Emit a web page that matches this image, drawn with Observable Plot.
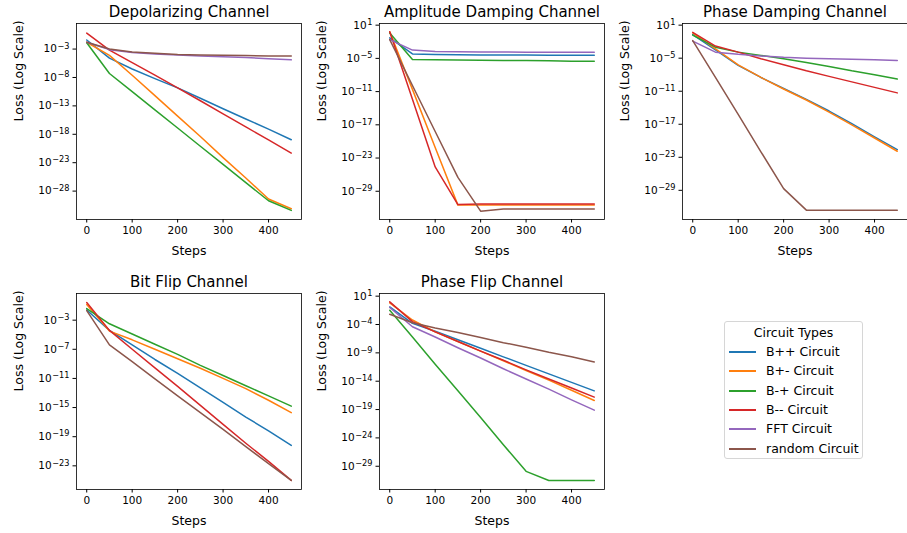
<!DOCTYPE html>
<html><head><meta charset="utf-8">
<script src="https://cdn.jsdelivr.net/npm/d3@7"></script>
<script src="https://cdn.jsdelivr.net/npm/@observablehq/plot@0.6"></script>
<style>
body{margin:0;background:#fff;overflow:hidden;font-family:"DejaVu Sans",sans-serif;}
#chart{position:relative;width:907px;height:533px;overflow:hidden;}
.panel{position:absolute;}
#legend{position:absolute;left:724px;top:321px;width:139px;height:138px;border:1px solid #d6d6d6;border-radius:3px;box-sizing:border-box;font-size:12.5px;color:#000;}
#legend .ttl{position:absolute;left:0;right:0;top:3px;text-align:center;}
#legend .row{position:absolute;left:0;height:16px;}
#legend .sw{position:absolute;left:4px;top:7px;width:27px;height:2px;}
#legend .lb{position:absolute;left:41px;top:0;white-space:nowrap;line-height:16px;}
</style></head><body><div id="chart"></div>
<script>
// ---- data (values are log10 of loss) ----
const steps = [0, 50, 100, 150, 200, 250, 300, 350, 400, 450];
const seriesNames = ["B++ Circuit", "B+- Circuit", "B-+ Circuit", "B-- Circuit", "FFT Circuit", "random Circuit"];
const seriesColors = ["#1f77b4", "#ff7f0e", "#2ca02c", "#d62728", "#9467bd", "#8c564b"];
const panelTitles = ["Depolarizing Channel", "Amplitude Damping Channel", "Phase Damping Channel", "Bit Flip Channel", "Phase Flip Channel"];
const xTicks = [0, 100, 200, 300, 400];

const depolarizingLog = [
  [-1.4, -4.6, -6.5, -8.2, -9.84, -11.66, -13.5, -15.3, -17.1, -18.96],
  [-1.8, -4.1, -7.6, -11.2, -14.8, -18.4, -22.1, -25.7, -29.4, -31.1],
  [-1.9, -7.3, -10.5, -13.7, -16.9, -20.1, -23.3, -26.5, -29.7, -31.4],
  [-0.2, -3.2, -5.4, -7.6, -9.84, -12.1, -14.4, -16.7, -19.0, -21.3],
  [-1.8, -3.1, -3.6, -3.85, -4.05, -4.2, -4.35, -4.5, -4.7, -4.9],
  [-1.8, -3.0, -3.5, -3.75, -3.95, -4.05, -4.1, -4.15, -4.2, -4.2]
];
const amplitudeDampingLog = [
  [-1.3, -4.2, -4.3, -4.35, -4.4, -4.4, -4.4, -4.45, -4.45, -4.45],
  [-0.2, -10.6, -21.1, -31.5, -31.5, -31.5, -31.5, -31.5, -31.5, -31.5],
  [-0.4, -5.2, -5.25, -5.3, -5.35, -5.4, -5.4, -5.45, -5.5, -5.5],
  [-0.2, -12.4, -24.6, -31.4, -31.3, -31.3, -31.3, -31.3, -31.3, -31.3],
  [-1.6, -3.5, -3.75, -3.8, -3.85, -3.85, -3.9, -3.9, -3.9, -3.9],
  [-1.6, -9.9, -18.2, -26.5, -32.6, -32.2, -32.2, -32.2, -32.2, -32.2]
];
const phaseDampingLog = [
  [-0.7, -3.5, -6.3, -8.5, -10.5, -12.5, -14.6, -16.9, -19.3, -21.6],
  [-0.4, -3.3, -6.2, -8.5, -10.6, -12.6, -14.8, -17.1, -19.5, -21.9],
  [-0.8, -3.0, -3.9, -4.5, -5.1, -5.8, -6.5, -7.3, -8.0, -8.8],
  [-0.3, -2.8, -3.9, -5.1, -6.2, -7.3, -8.3, -9.3, -10.3, -11.3],
  [-1.9, -3.9, -4.3, -4.6, -4.85, -5.0, -5.1, -5.2, -5.3, -5.4],
  [-1.8, -8.5, -15.2, -22.0, -28.7, -32.6, -32.6, -32.6, -32.6, -32.6]
];
const bitFlipLog = [
  [-1.6, -4.4, -6.4, -8.4, -10.3, -12.3, -14.3, -16.3, -18.2, -20.2],
  [-0.85, -4.5, -5.7, -7.0, -8.3, -9.6, -11.0, -12.4, -14.0, -15.7],
  [-1.4, -3.5, -4.9, -6.3, -7.7, -9.2, -10.6, -12.0, -13.4, -14.8],
  [-0.57, -4.4, -7.0, -9.55, -12.1, -14.7, -17.3, -19.9, -22.4, -25.0],
  null,
  [-1.7, -6.4, -8.7, -11.05, -13.4, -15.7, -18.0, -20.35, -22.7, -25.0]
];
const phaseFlipLog = [
  [-0.9, -3.8, -5.2, -6.7, -8.2, -9.7, -11.2, -12.7, -14.2, -15.7],
  [-0.2, -3.2, -5.3, -7.0, -8.7, -10.4, -12.1, -13.8, -15.6, -17.4],
  [-1.5, -6.2, -11.0, -15.7, -20.4, -25.2, -29.9, -31.5, -31.5, -31.5],
  [0.0, -3.5, -5.3, -7.0, -8.7, -10.3, -12.0, -13.6, -15.2, -16.8],
  [-1.0, -4.4, -6.2, -8.1, -9.9, -11.8, -13.6, -15.4, -17.3, -19.1],
  [-2.2, -3.7, -4.6, -5.4, -6.3, -7.2, -8.0, -8.9, -9.7, -10.6]
];
const depolarizingTicks = [-3, -8, -13, -18, -23, -28];
const amplitudeDampingTicks = [1, -5, -11, -17, -23, -29];
const phaseDampingTicks = [1, -5, -11, -17, -23, -29];
const bitFlipTicks = [-3, -7, -11, -15, -19, -23];
const phaseFlipTicks = [1, -4, -9, -14, -19, -24, -29];

// ---- layout ----
const panels = [
  {data: depolarizingLog, ticks: depolarizingTicks, dom: [-33, 1.5], left: 0, top: 0},
  {data: amplitudeDampingLog, ticks: amplitudeDampingTicks, dom: [-34.1, 1.3], left: 303, top: 0},
  {data: phaseDampingLog, ticks: phaseDampingTicks, dom: [-34.3, 1.3], left: 606, top: 0},
  {data: bitFlipLog, ticks: bitFlipTicks, dom: [-26.25, 0.66], left: 0, top: 270},
  {data: phaseFlipLog, ticks: phaseFlipTicks, dom: [-33.1, 1.47], left: 303, top: 270}
];

const supMap = {"-": "\u207B", "0": "\u2070", "1": "\u00B9", "2": "\u00B2", "3": "\u00B3", "4": "\u2074", "5": "\u2075", "6": "\u2076", "7": "\u2077", "8": "\u2078", "9": "\u2079"};
const fmt = d => "10" + String(Math.round(Math.log10(d))).split("").map(c => supMap[c]).join("");

const chart = document.getElementById("chart");
panels.forEach((p, k) => {
  const rows = [];
  p.data.forEach((vals, i) => {
    if (!vals) return;
    vals.forEach((e, j) => rows.push({step: steps[j], loss: Math.pow(10, e), series: seriesNames[i]}));
  });
  const svg = Plot.plot({
    width: 303, height: 262,
    marginLeft: 76, marginRight: 2, marginTop: 23, marginBottom: 43,
    style: {fontFamily: "DejaVu Sans", fontSize: "10.5px", color: "#000", background: "transparent", overflow: "visible"},
    x: {domain: [-22.5, 472.5], ticks: xTicks, tickSize: 3.5, tickPadding: 3.5, label: null},
    y: {type: "log", domain: [Math.pow(10, p.dom[0]), Math.pow(10, p.dom[1])], ticks: p.ticks.map(e => Math.pow(10, e)), tickFormat: fmt, tickSize: 3.5, tickPadding: 3.5, label: null},
    color: {domain: seriesNames, range: seriesColors},
    marks: [
      Plot.line(rows, {x: "step", y: "loss", z: "series", stroke: "series", strokeWidth: 1.5}),
      Plot.frame({stroke: "#000", strokeWidth: 0.8}),
      Plot.text([panelTitles[k]], {frameAnchor: "top", dy: -17, fontSize: 15}),
      Plot.text(["Steps"], {frameAnchor: "bottom", dy: 35, fontSize: 12.5}),
      Plot.text(["Loss (Log Scale)"], {frameAnchor: "left", dx: -58, rotate: -90, fontSize: 12.5})
    ]
  });
  // render y tick labels as 10 with a raised, smaller exponent (mathtext style)
  const inv = {};
  Object.keys(supMap).forEach(c => inv[supMap[c]] = c);
  svg.querySelectorAll("text").forEach(t => {
    const s = t.textContent;
    if (s.length > 2 && s.startsWith("10") && inv[s[2]] !== undefined) {
      const exp = s.slice(2).split("").map(c => inv[c]).join("").replace("-", "\u2212");
      while (t.firstChild) t.removeChild(t.firstChild);
      const ns = "http://www.w3.org/2000/svg";
      const a = document.createElementNS(ns, "tspan");
      a.textContent = "10";
      const b = document.createElementNS(ns, "tspan");
      b.textContent = exp;
      b.setAttribute("font-size", "8.2px");
      b.setAttribute("dy", "-3.6");
      b.setAttribute("dx", "0.6");
      t.appendChild(a);
      t.appendChild(b);
    }
  });
  svg.classList.add("panel");
  svg.style.left = p.left + "px";
  svg.style.top = p.top + "px";
  chart.appendChild(svg);
});

// ---- legend ----
const legend = document.createElement("div");
legend.id = "legend";
legend.innerHTML = '<div class="ttl">Circuit Types</div>' + seriesNames.map((n, i) =>
  `<div class="row" style="top:${22 + i * 19.3}px"><div class="sw" style="background:${seriesColors[i]}"></div><div class="lb">${n}</div></div>`).join("");
chart.appendChild(legend);
</script>
</body></html>
